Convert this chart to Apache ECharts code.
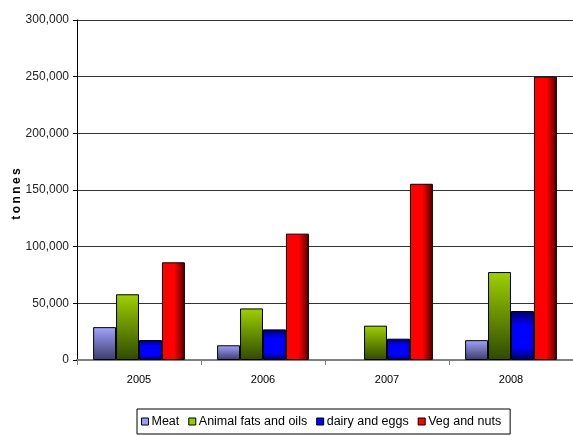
<!DOCTYPE html>
<html><head><meta charset="utf-8">
<script src="https://cdn.jsdelivr.net/npm/echarts@6/dist/echarts.min.js"></script>
<style>html,body{margin:0;padding:0;background:#fff}#c{width:573px;height:435px}</style>
</head><body><div id="c"></div>
<script>
var categories = ['2005', '2006', '2007', '2008'];
var seriesNames = ['Meat', 'Animal fats and oils', 'dairy and eggs', 'Veg and nuts'];
var meat = [29000, 13000, 0, 17500];
var animalFats = [58000, 45500, 30300, 77600];
var dairy = [17600, 27000, 18800, 43200];
var veg = [86200, 111500, 155500, 250000];
var yTicks = [0, 50000, 100000, 150000, 200000, 250000, 300000];

function vgrad(stops){ return new echarts.graphic.LinearGradient(0,0,0,1, stops); }
function hgrad(stops){ return new echarts.graphic.LinearGradient(0,0,1,0, stops); }
var fills = [
  vgrad([{offset:0,color:'#a3a3ff'},{offset:1,color:'#3c3c6c'}]),
  vgrad([{offset:0,color:'#9fd000'},{offset:1,color:'#2f4a00'}]),
  vgrad([{offset:0,color:'#00006a'},{offset:0.3,color:'#0000ff'},{offset:0.75,color:'#0000ff'},{offset:1,color:'#00005a'}]),
  hgrad([{offset:0,color:'#ff0000'},{offset:0.55,color:'#ff0000'},{offset:1,color:'#4a0000'}])
];
var legendColors = ['#9999ff', '#99cc00', '#0000ff', '#ff0000'];
var values = [meat, animalFats, dairy, veg];

var chart = echarts.init(document.getElementById('c'), null, {renderer:'canvas'});
chart.setOption({
  animation: false,
  textStyle: {fontFamily: 'Liberation Sans, Arial, sans-serif'},
  grid: {left: 77, right: 0, top: 20, bottom: 75, outerBoundsMode: 'none', containLabel: false},
  legend: {
    bottom: 1, left: 137,
    data: seriesNames.map(function(n,i){ return {name:n, itemStyle:{color:legendColors[i], borderColor:'#000', borderWidth:1}}; }),
    icon: 'rect', itemWidth: 7, itemHeight: 7, itemGap: 9,
    borderColor: '#000', borderWidth: 1, padding: [6, 9, 6, 4],
    textStyle: {fontSize: 12.5, color: '#000', padding:[0,0,0,-2]}
  },
  xAxis: {
    type: 'category', data: categories,
    axisLine: {lineStyle: {color: '#808080', width: 2}},
    axisTick: {show: true, length: 5, lineStyle: {color: '#808080'}},
    axisLabel: {fontSize: 11, color: '#000', margin: 14}
  },
  yAxis: {
    type: 'value', min: yTicks[0], max: yTicks[yTicks.length-1], interval: 50000,
    name: 't\u2009o\u2009n\u2009n\u2009e\u2009s', nameLocation: 'middle', nameRotate: 90, nameGap: 54,
    nameMoveOverlap: false,
    nameTextStyle: {fontSize: 12, fontWeight: 'bold', color: '#000', padding: [0, 8, 0, 0]},
    axisLine: {show: true, lineStyle: {color: '#000', width: 1}},
    axisTick: {show: true, length: 4, lineStyle: {color: '#000'}},
    axisLabel: {fontSize: 12, color: '#222', margin: 8, formatter: function(v){ return v.toLocaleString('en-US'); }},
    splitLine: {lineStyle: {color: '#333', width: 1}}
  },
  series: values.map(function(d,i){
    return {
      name: seriesNames[i], type: 'bar',
      data: d.map(function(v){ return v === 0 ? {value: v, itemStyle: {borderWidth: 0}} : v; }),
      barGap: '0%', barCategoryGap: '26%',
      itemStyle: {color: fills[i], borderColor: '#000', borderWidth: 1}
    };
  })
});
</script></body></html>
